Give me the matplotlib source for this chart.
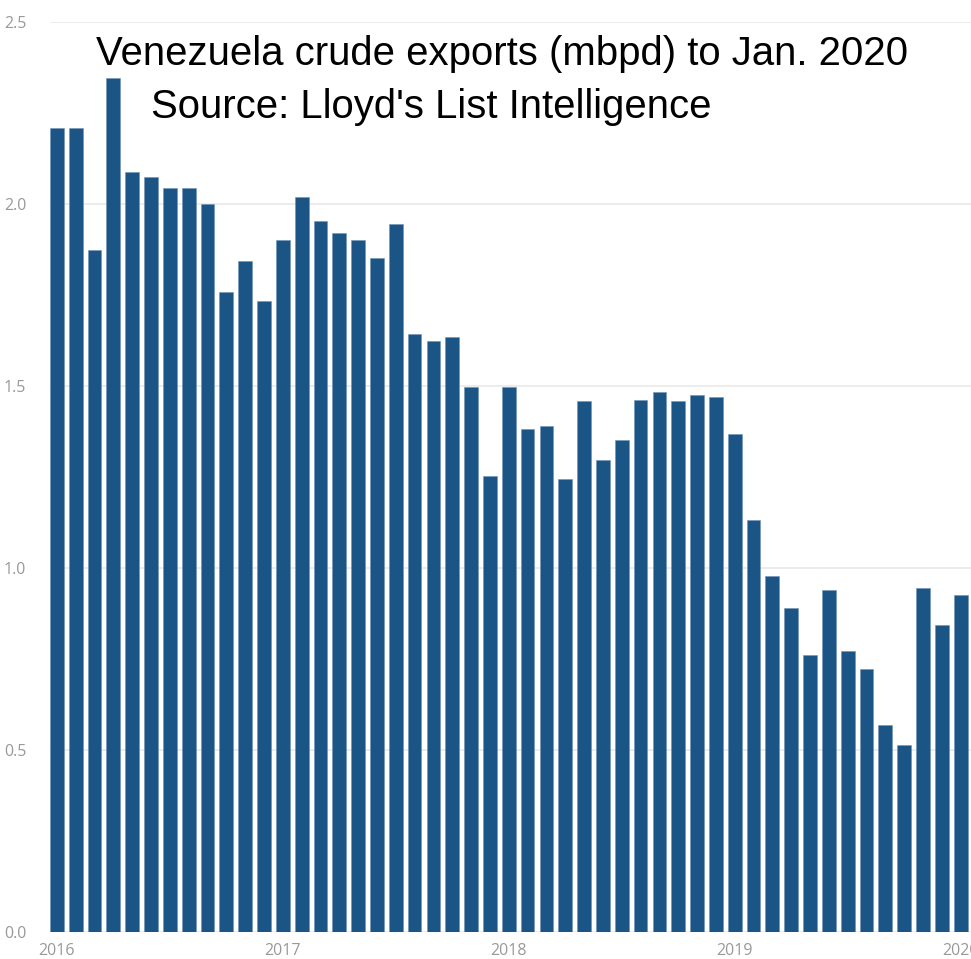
import matplotlib
matplotlib.use('Agg')
import matplotlib.pyplot as plt
import numpy as np

# monthly exports, Jan 2016 .. Jan 2020 (mbpd)
months = ['2016-%02d' % m for m in range(1, 13)] + ['2017-%02d' % m for m in range(1, 13)] \
    + ['2018-%02d' % m for m in range(1, 13)] + ['2019-%02d' % m for m in range(1, 13)] + ['2020-01']
exports = [2.21, 2.21, 1.875, 2.345, 2.089, 2.075, 2.044, 2.044, 2.0, 1.758, 1.843, 1.733,
           1.901, 2.02, 1.953, 1.919, 1.90, 1.853, 1.946, 1.643, 1.624, 1.634, 1.497, 1.254,
           1.496, 1.383, 1.389, 1.245, 1.458, 1.298, 1.352, 1.462, 1.484, 1.459, 1.475, 1.471,
           1.368, 1.132, 0.977, 0.89, 0.761, 0.94, 0.771, 0.722, 0.57, 0.515, 0.946, 0.843, 0.925]
year_ticks = [0, 12, 24, 36, 48]
year_labels = ['2016', '2017', '2018', '2019', '2020']
y_ticks = [0.0, 0.5, 1.0, 1.5, 2.0, 2.5]

W, H = 971, 959
fig = plt.figure(figsize=(W / 100, H / 100), dpi=100)
ax = fig.add_axes([50 / W, 27 / H, (W - 50) / W, (932 - 22) / H])

x = np.arange(len(exports))
ax.bar(x, exports, width=0.73, color='#1b5586', edgecolor='#6f93b5', linewidth=0.4, zorder=2)

ax.set_xlim(-0.365, 48.55)
ax.set_ylim(0, 2.5)
ax.set_yticks(y_ticks)
ax.set_yticklabels(['%.1f' % v for v in y_ticks])
ax.set_xticks(year_ticks)
ax.set_xticklabels(year_labels)
ax.grid(axis='y', color='#ebebeb', linewidth=1.3, zorder=0)
for s in ax.spines.values():
    s.set_visible(False)
ax.tick_params(length=0, colors='#999999', labelsize=11.5)
ax.tick_params(axis='y', pad=17)
ax.tick_params(axis='x', pad=8)
for lab in ax.get_xticklabels() + ax.get_yticklabels():
    lab.set_fontfamily('Open Sans')

fig.text(502 / W, 1 - 54 / H, 'Venezuela crude exports (mbpd) to Jan. 2020',
         ha='center', va='center', fontsize=28.9, family='Liberation Sans', color='black')
fig.text(431 / W, 1 - 107 / H, "Source: Lloyd's List Intelligence",
         ha='center', va='center', fontsize=28.9, family='Liberation Sans', color='black')

fig.savefig('out.png', dpi=100)
